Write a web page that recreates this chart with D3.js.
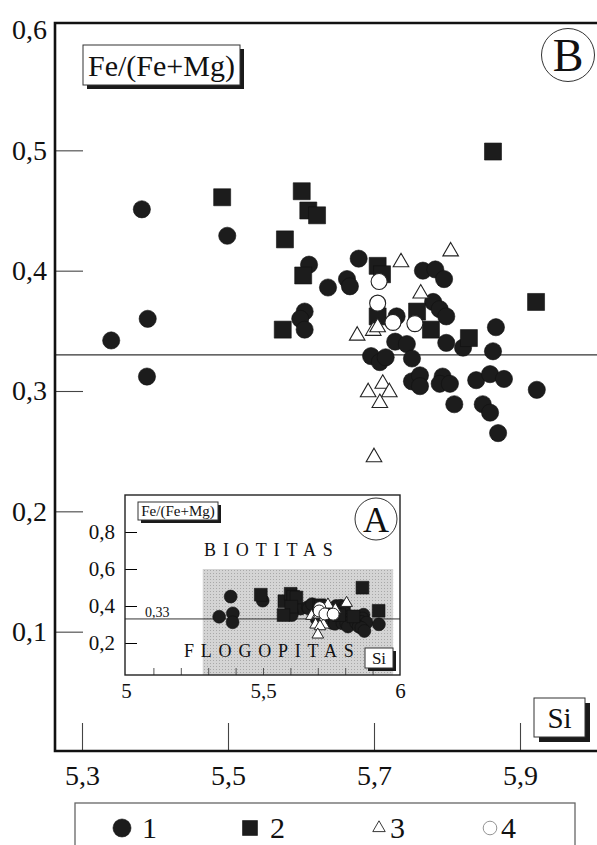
<!DOCTYPE html>
<html>
<head>
<meta charset="utf-8">
<script src="https://cdn.jsdelivr.net/npm/d3@7"></script>
<style>
    body {
        margin: 0;
        background: #ffffff;
    }
    svg {
        display: block;
    }
    svg text {
        font-family: "Liberation Serif", "DejaVu Serif", serif;
        fill: #111;
    }
</style>
</head>
<body>
<svg id="chart" width="597" height="845"></svg>
<script>

// [Si, Fe/(Fe+Mg)] per group
let group1 = [
    [5.340, 0.342], [5.382, 0.451], [5.390, 0.360], [5.389, 0.312], [5.499, 0.429],
    [5.611, 0.405], [5.637, 0.386], [5.663, 0.393], [5.667, 0.387], [5.679, 0.410],
    [5.605, 0.366], [5.599, 0.360], [5.605, 0.351], [5.731, 0.362],
    [5.767, 0.400], [5.784, 0.401], [5.796, 0.393],
    [5.781, 0.374], [5.790, 0.368], [5.799, 0.362],
    [5.799, 0.340], [5.822, 0.336], [5.867, 0.353], [5.863, 0.333],
    [5.696, 0.329], [5.708, 0.324], [5.716, 0.328],
    [5.729, 0.341], [5.745, 0.339], [5.752, 0.327],
    [5.752, 0.308], [5.763, 0.313], [5.763, 0.304],
    [5.794, 0.312], [5.790, 0.306], [5.804, 0.306], [5.810, 0.289],
    [5.840, 0.309], [5.859, 0.314], [5.878, 0.310],
    [5.849, 0.289], [5.859, 0.282], [5.870, 0.265], [5.923, 0.301]
];

let group2 = [
    [5.492, 0.461], [5.578, 0.426], [5.601, 0.466], [5.610, 0.450], [5.622, 0.446],
    [5.603, 0.396], [5.575, 0.351], [5.705, 0.404], [5.711, 0.397], [5.705, 0.362],
    [5.759, 0.366], [5.778, 0.351], [5.830, 0.344], [5.863, 0.499], [5.922, 0.374]
];

let group3 = [
    [5.677, 0.346], [5.699, 0.350], [5.705, 0.353], [5.737, 0.407], [5.764, 0.381],
    [5.805, 0.416], [5.712, 0.306], [5.692, 0.299], [5.721, 0.299], [5.708, 0.290],
    [5.700, 0.245]
];

let group4 = [
    [5.707, 0.391], [5.705, 0.373], [5.726, 0.357], [5.756, 0.356]
];

let legendLabels = ["1", "2", "3", "4"];

let mainXTicks = [5.3, 5.5, 5.7, 5.9];
let mainYTicks = [0.1, 0.2, 0.3, 0.4, 0.5, 0.6];
let insetXTicks = [5, 5.5, 6];
let insetXMinorTicks = [5.1, 5.2, 5.3, 5.4, 5.5, 5.6, 5.7, 5.8, 5.9];
let insetYTicks = [0.2, 0.4, 0.6, 0.8];

let limitValue = 0.33;
let limitLabel = "0,33";
let shadedSi = [5.28, 5.975];
let shadedFe = [0, 0.6];

let series = [
    { label: legendLabels[0], data: group1, type: "dot" },
    { label: legendLabels[1], data: group2, type: "square" },
    { label: legendLabels[2], data: group3, type: "triangle" },
    { label: legendLabels[3], data: group4, type: "ring" }
];

let commaFormat = d => String(d).replace(".", ",");

let svg = d3.select("#chart");

function shape(type, scale) {
    if (type === "dot") return d3.symbol(d3.symbolCircle, Math.PI * Math.pow(8.6 * scale, 2))();
    if (type === "square") return d3.symbol(d3.symbolSquare, Math.pow(17 * scale, 2))();
    if (type === "triangle") return d3.symbol(d3.symbolTriangle, 105 * scale * scale)();
    return d3.symbol(d3.symbolCircle, Math.PI * Math.pow(8 * scale, 2))();
}

function styleMark(sel, type, strokeW) {
    if (type === "dot" || type === "square") {
        sel.attr("fill", "#1c1c1c").attr("stroke", "#111").attr("stroke-width", 0.6);
    } else {
        sel.attr("fill", "#ffffff").attr("stroke", "#222").attr("stroke-width", strokeW);
    }
}

function drawPoints(layer, xs, ys, scale, strokeW) {
    for (let s of series) {
        layer.append("g")
            .selectAll("path")
            .data(s.data)
            .enter()
            .append("path")
            .attr("d", shape(s.type, scale))
            .attr("transform", d => `translate(${xs(d[0])},${ys(d[1])})`)
            .call(sel => styleMark(sel, s.type, strokeW));
    }
}

// box with a dark shadow bottom-right
function boxLabel(bx, by, w, h, text, size, off) {
    let g = svg.append("g");
    g.append("rect")
        .attr("x", bx + off).attr("y", by + off)
        .attr("width", w).attr("height", h)
        .attr("fill", "#1a1a1a");
    g.append("rect")
        .attr("x", bx).attr("y", by)
        .attr("width", w).attr("height", h)
        .attr("fill", "#ffffff")
        .attr("stroke", "#333")
        .attr("stroke-width", 1);
    g.append("text")
        .attr("x", bx + w / 2)
        .attr("y", by + h / 2)
        .attr("dy", "0.35em")
        .attr("text-anchor", "middle")
        .style("font-size", size + "px")
        .text(text);
}

function circledLetter(cx, cy, r, letter, size) {
    svg.append("circle")
        .attr("cx", cx).attr("cy", cy).attr("r", r)
        .attr("fill", "none")
        .attr("stroke", "#333")
        .attr("stroke-width", 1);
    svg.append("text")
        .attr("x", cx).attr("y", cy)
        .attr("dy", "0.35em")
        .attr("text-anchor", "middle")
        .style("font-size", size + "px")
        .text(letter);
}


// MAIN PLOT (B)
let frameLeft = 55, frameTop = 23, frameBottom = 751, frameRight = 600;

let x = d3.scaleLinear().domain([5.3, 5.9]).range([82, 520]);
let y = d3.scaleLinear().domain([0, 0.6]).range([752, 30]);

// limit line
svg.append("line")
    .attr("x1", frameLeft).attr("x2", frameRight)
    .attr("y1", y(limitValue)).attr("y2", y(limitValue))
    .attr("stroke", "#333")
    .attr("stroke-width", 1.2);

// y axis
svg.append("g")
    .attr("transform", `translate(${frameLeft},0)`)
    .call(d3.axisLeft(y)
        .tickValues(mainYTicks)
        .tickFormat(d => d.toFixed(1).replace(".", ","))
        .tickSizeInner(-28)
        .tickSizeOuter(0)
        .tickPadding(8))
    .attr("font-size", 28)
    .call(g => g.select(".domain").remove())
    .call(g => g.selectAll(".tick").filter(d => d === 0.6).select("line").remove())
    .call(g => g.selectAll(".tick line").attr("stroke", "#444").attr("stroke-width", 1.1));

// x axis
svg.append("g")
    .attr("transform", `translate(0,${frameBottom})`)
    .call(d3.axisBottom(x)
        .tickValues(mainXTicks)
        .tickFormat(d => d.toFixed(1).replace(".", ","))
        .tickSizeInner(-28)
        .tickSizeOuter(0)
        .tickPadding(14))
    .attr("font-size", 28)
    .call(g => g.select(".domain").remove())
    .call(g => g.selectAll(".tick line").attr("stroke", "#444").attr("stroke-width", 1.1));

// frame
svg.append("path")
    .attr("d", `M${frameRight},${frameTop}H${frameLeft}V${frameBottom}H${frameRight}`)
    .attr("fill", "none")
    .attr("stroke", "#111")
    .attr("stroke-width", 2.6);

boxLabel(83, 45, 157, 40, "Fe/(Fe+Mg)", 30, 4);
circledLetter(568, 55, 26.5, "B", 46);
boxLabel(534, 698, 51, 39, "Si", 29, 5);

drawPoints(svg.append("g"), x, y, 1, 1.1);


// INSET (A)
let insetLeft = 125, insetTop = 495, insetRight = 400, insetBottom = 675;

let xi = d3.scaleLinear().domain([5, 6]).range([126, 400]);
let yi = d3.scaleLinear().domain([0, 1]).range([680, 495]);

svg.append("rect")
    .attr("x", insetLeft).attr("y", insetTop)
    .attr("width", insetRight - insetLeft)
    .attr("height", insetBottom - insetTop)
    .attr("fill", "#ffffff");

// shaded field
let defs = svg.append("defs");
let pattern = defs.append("pattern")
    .attr("id", "stipple")
    .attr("width", 3).attr("height", 3)
    .attr("patternUnits", "userSpaceOnUse");
pattern.append("rect").attr("width", 3).attr("height", 3).attr("fill", "#d4d4d4");
pattern.append("rect").attr("width", 1).attr("height", 1).attr("fill", "#a8a8a8");

svg.append("rect")
    .attr("x", xi(shadedSi[0]))
    .attr("y", yi(shadedFe[1]))
    .attr("width", xi(shadedSi[1]) - xi(shadedSi[0]))
    .attr("height", insetBottom - yi(shadedFe[1]))
    .attr("fill", "url(#stipple)");

svg.append("line")
    .attr("x1", insetLeft).attr("x2", insetRight)
    .attr("y1", yi(limitValue)).attr("y2", yi(limitValue))
    .attr("stroke", "#333")
    .attr("stroke-width", 1);

svg.append("text")
    .attr("x", 145)
    .attr("y", yi(limitValue) - 2)
    .style("font-size", "14px")
    .text(limitLabel);

svg.append("text")
    .attr("x", 204).attr("y", 556)
    .style("font-size", "18px")
    .style("letter-spacing", "6.9px")
    .text("BIOTITAS");

svg.append("text")
    .attr("x", 184).attr("y", 657)
    .style("font-size", "18px")
    .style("letter-spacing", "6.8px")
    .text("FLOGOPITAS");

svg.append("g")
    .attr("transform", `translate(${insetLeft},0)`)
    .call(d3.axisLeft(yi)
        .tickValues(insetYTicks)
        .tickFormat(d => d.toFixed(1).replace(".", ","))
        .tickSizeInner(-12)
        .tickSizeOuter(0)
        .tickPadding(10))
    .attr("font-size", 21)
    .call(g => g.select(".domain").remove());

svg.append("g")
    .attr("transform", `translate(0,${insetBottom})`)
    .call(d3.axisBottom(xi)
        .tickValues(insetXTicks)
        .tickFormat(commaFormat)
        .tickSize(0)
        .tickPadding(8))
    .attr("font-size", 21)
    .call(g => g.select(".domain").remove());

svg.append("g")
    .attr("transform", `translate(0,${insetBottom})`)
    .call(d3.axisBottom(xi)
        .tickValues(insetXMinorTicks)
        .tickFormat("")
        .tickSizeInner(-7)
        .tickSizeOuter(0))
    .call(g => g.select(".domain").remove())
    .call(g => g.selectAll(".tick line").attr("stroke", "#555"));

drawPoints(svg.append("g"), xi, yi, 0.75, 1);

svg.append("rect")
    .attr("x", insetLeft).attr("y", insetTop)
    .attr("width", insetRight - insetLeft)
    .attr("height", insetBottom - insetTop)
    .attr("fill", "none")
    .attr("stroke", "#222")
    .attr("stroke-width", 1.4);

boxLabel(138, 502, 80, 18, "Fe/(Fe+Mg)", 15, 3);
circledLetter(376, 519, 21, "A", 36);
boxLabel(365, 648, 28, 20, "Si", 17, 3);


// LEGEND
svg.append("rect")
    .attr("x", 75).attr("y", 803)
    .attr("width", 500).attr("height", 70)
    .attr("fill", "none")
    .attr("stroke", "#666")
    .attr("stroke-width", 1.3);

let legendX = [122, 250, 379, 490];
let legendScale = { dot: 1.05, square: 0.88, triangle: 0.8, ring: 0.85 };

let legendItems = svg.selectAll(".legend-item")
    .data(series)
    .enter()
    .append("g")
    .attr("class", "legend-item")
    .attr("transform", (d, i) => `translate(${legendX[i]},828)`);

legendItems.append("path")
    .attr("d", d => shape(d.type, legendScale[d.type]))
    .each(function (d) { styleMark(d3.select(this), d.type, 0.9); })
    .filter(d => d.type === "ring")
    .attr("stroke", "#888");

legendItems.append("text")
    .attr("x", d => d.type === "triangle" || d.type === "ring" ? 11 : 20)
    .attr("y", 10)
    .style("font-size", "30px")
    .text(d => d.label);

</script>
</body>
</html>
